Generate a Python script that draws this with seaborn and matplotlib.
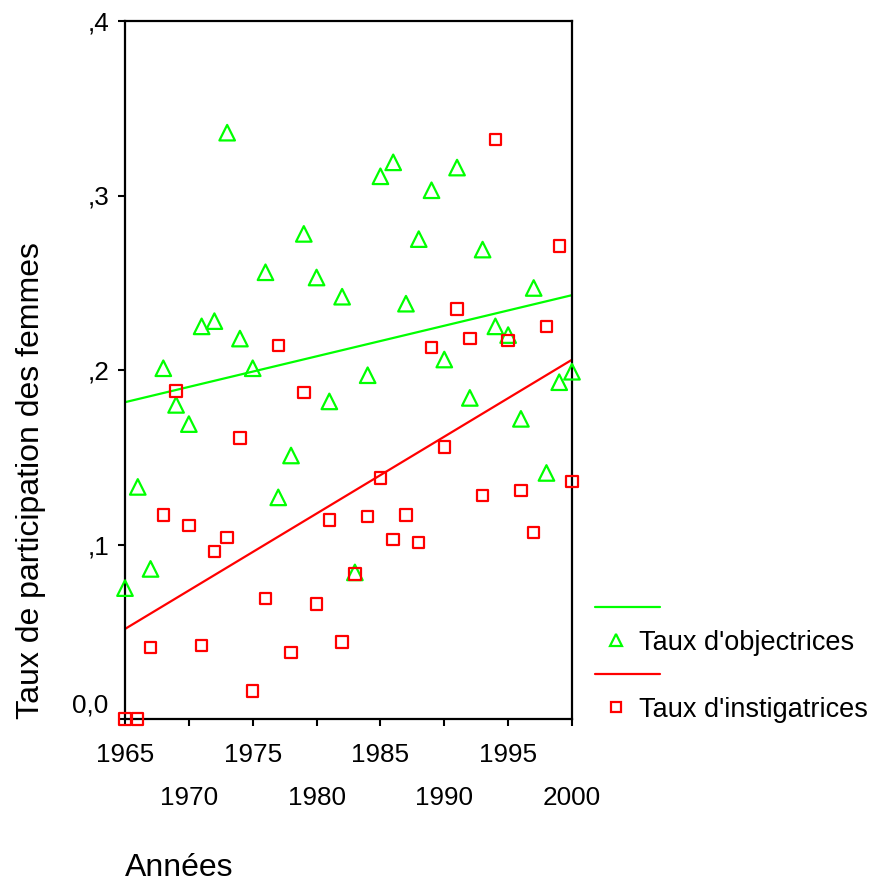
import matplotlib
matplotlib.use("Agg")
import matplotlib.pyplot as plt
import seaborn as sns
import pandas as pd
from matplotlib.lines import Line2D
from matplotlib.legend_handler import HandlerLine2D

# ---- data ----
years = list(range(1965, 2001))
objectrices = [0.075, 0.133, 0.086, 0.201, 0.180, 0.169, 0.225, 0.228, 0.336, 0.218,
               0.201, 0.256, 0.127, 0.151, 0.278, 0.253, 0.182, 0.242, 0.084, 0.197,
               0.311, 0.319, 0.238, 0.275, 0.303, 0.206, 0.316, 0.184, 0.269, 0.225,
               0.220, 0.172, 0.247, 0.141, 0.193, 0.199]
instigatrices = [0.000, 0.000, 0.041, 0.117, 0.188, 0.111, 0.042, 0.096, 0.104, 0.161,
                 0.016, 0.069, 0.214, 0.038, 0.187, 0.066, 0.114, 0.044, 0.083, 0.116,
                 0.138, 0.103, 0.117, 0.101, 0.213, 0.156, 0.235, 0.218, 0.128, 0.332,
                 0.217, 0.131, 0.107, 0.225, 0.271, 0.136]
series_labels = ["Taux d'objectrices", "Taux d'instigatrices"]
x_major = [1965, 1975, 1985, 1995]
x_minor = [1970, 1980, 1990, 2000]
y_ticks = [0.0, 0.1, 0.2, 0.3, 0.4]
y_tick_labels = ["0,0", ",1", ",2", ",3", ",4"]
x_title = "Années"
y_title = "Taux de participation des femmes"

GREEN = "#00ff00"
RED = "#ff0000"

sns.set_theme(style="white")
plt.rcParams["font.family"] = ["Liberation Sans", "DejaVu Sans"]
plt.rcParams["text.color"] = "black"
plt.rcParams["axes.labelcolor"] = "black"

df = pd.DataFrame({"annee": years, "obj": objectrices, "inst": instigatrices})

fig = plt.figure(figsize=(8.72, 8.84), dpi=100)
ax = fig.add_axes([125 / 872, 1 - 719 / 884, 447 / 872, 698 / 884])

sns.regplot(data=df, x="annee", y="obj", scatter=False, ci=None, truncate=True,
            color=GREEN, line_kws=dict(lw=1.6), ax=ax)
sns.regplot(data=df, x="annee", y="inst", scatter=False, ci=None, truncate=True,
            color=RED, line_kws=dict(lw=1.6), ax=ax)
sns.scatterplot(data=df, x="annee", y="obj", marker="^", s=125, facecolor="none",
                edgecolor=GREEN, linewidth=1.6, ax=ax, clip_on=False, zorder=3)
sns.scatterplot(data=df, x="annee", y="inst", marker="s", s=68, facecolor="none",
                edgecolor=RED, linewidth=1.6, ax=ax, clip_on=False, zorder=4)

ax.set_xlim(1965, 2000)
ax.set_ylim(0, 0.4)

for sp in ax.spines.values():
    sp.set_visible(True)
    sp.set_color("black")
    sp.set_linewidth(1.6)

ax.set_xticks(x_major)
ax.set_xticklabels([str(v) for v in x_major])
ax.set_xticks(x_minor, minor=True)
ax.set_xticklabels([str(v) for v in x_minor], minor=True)
ax.set_yticks(y_ticks)
ax.set_yticklabels([""] + y_tick_labels[1:])
ax.annotate(y_tick_labels[0], xy=(0, y_ticks[0]), xycoords=("axes fraction", "data"),
            xytext=(-12, 10), textcoords="offset points", ha="right", va="center",
            fontsize=18.8)

ax.tick_params(which="both", direction="out", length=5, width=1.5, color="black",
               labelsize=18.8, labelcolor="black", bottom=True, left=True,
               top=False, right=False)
ax.tick_params(axis="x", which="major", pad=12)
ax.tick_params(axis="x", which="minor", pad=43)
ax.tick_params(axis="y", pad=6)

ax.set_xlabel(x_title, loc="left", fontsize=23, labelpad=31)
ax.set_ylabel(y_title, loc="bottom", fontsize=23, labelpad=30)


class LongLineHandler(HandlerLine2D):
    def create_artists(self, legend, orig_handle, xdescent, ydescent, width, height,
                       fontsize, trans):
        y = height / 2 - ydescent
        line = Line2D([-xdescent, -xdescent + width * 1.55], [y, y],
                      color=orig_handle.get_color(), lw=orig_handle.get_linewidth())
        line.set_transform(trans)
        return [line]


h_g_line = Line2D([], [], color=GREEN, lw=1.6)
h_g_mark = Line2D([], [], ls="none", marker="^", mfc="none", mec=GREEN, mew=1.6, ms=9)
h_r_line = Line2D([], [], color=RED, lw=1.6)
h_r_mark = Line2D([], [], ls="none", marker="s", mfc="none", mec=RED, mew=1.6, ms=6.5)

fig.legend([h_g_line, h_g_mark, h_r_line, h_r_mark],
           ["", series_labels[0], "", series_labels[1]],
           handler_map={h_g_line: LongLineHandler(), h_r_line: LongLineHandler()},
           loc="upper left", bbox_to_anchor=(595 / 872, 1 - 596 / 884),
           frameon=False, fontsize=19.5, handlelength=1.55, handletextpad=0.08,
           labelspacing=0.28, borderpad=0, borderaxespad=0)

fig.savefig("out.png", dpi=100)
